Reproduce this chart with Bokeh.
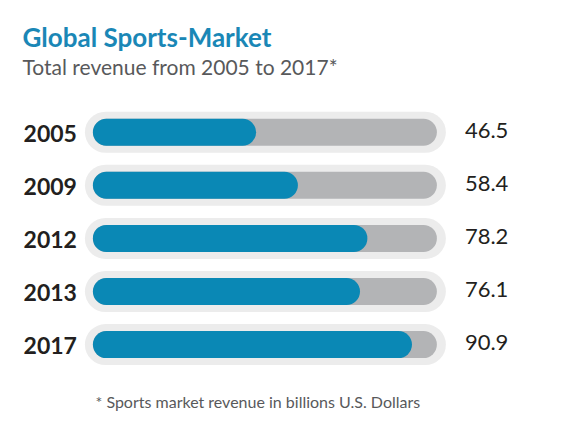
from bokeh.plotting import figure
from bokeh.models import Range1d
from bokeh.core.properties import value
from bokeh.embed import file_html
from bokeh.resources import INLINE

# ---- data ----
years = ["2005", "2009", "2012", "2013", "2017"]
revenue = [46.5, 58.4, 78.2, 76.1, 90.9]
value_labels = ["46.5", "58.4", "78.2", "76.1", "90.9"]
track_max = 98.0

title_text = "Global Sports-Market"
subtitle_text = "Total revenue from 2005 to 2017*"
footnote_text = "* Sports market revenue in billions U.S. Dollars"

# ---- layout constants (pixels) ----
W, H = 546, 429
PX = 3.51          # pixels per revenue unit
X0 = 92.4          # frame pixel of revenue 0
ROW = 53.1         # pixels between rows
Y0 = 131.7         # frame pixel of first row centre

FONT = "Lato"
BLUE = "#0a88b5"
TRACK = "#b3b4b6"
OUTER = "#ececec"
DARK = "#231f20"
GREY = "#58595b"

x_start = -X0 / PX
x_end = x_start + W / PX
y_top = -Y0 / ROW
y_bot = y_top + H / ROW


def dx(px):
    return px / PX


def page_x(x):
    return (x - X0) / PX


def page_y(y):
    return (y - Y0) / ROW


p = figure(width=W, height=H, x_range=Range1d(x_start, x_end),
           y_range=Range1d(y_bot, y_top), output_backend="svg",
           toolbar_location=None, min_border=0,
           x_axis_location=None, y_axis_location=None)
p.grid.visible = False
p.outline_line_color = None
p.background_fill_color = "white"
p.border_fill_color = "white"

rows = list(range(len(years)))

inner_h = 27
outer_h = 41
r_in = dx(inner_h / 2)
r_out = dx(outer_h / 2)

# outer pill
p.segment(x0=[-dx(8) + r_out] * len(rows), y0=rows,
          x1=[track_max + dx(9) - r_out] * len(rows), y1=rows,
          line_width=outer_h, line_cap="round", line_color=OUTER)
# track
p.segment(x0=[r_in] * len(rows), y0=rows,
          x1=[track_max - r_in] * len(rows), y1=rows,
          line_width=inner_h, line_cap="round", line_color=TRACK)
# value bar
p.segment(x0=[r_in] * len(rows), y0=rows,
          x1=[v - r_in for v in revenue], y1=rows,
          line_width=inner_h, line_cap="round", line_color=BLUE)

# year labels
p.text(x=[0] * len(rows), y=rows, text=years, x_offset=-16, y_offset=1,
       text_align="right", text_baseline="middle",
       text_font=value(FONT), text_font_style="bold",
       text_font_size="23px", text_color=DARK)
# value labels
p.text(x=[track_max] * len(rows), y=rows, text=value_labels, x_offset=28,
       y_offset=-2, text_align="left", text_baseline="middle",
       text_font=value(FONT), text_font_size="22px", text_color=DARK)

# title / subtitle / footnote
p.text(x=[page_x(22)], y=[page_y(36)], text=[title_text],
       text_align="left", text_baseline="alphabetic",
       text_font=value(FONT), text_font_style="bold",
       text_font_size="26px", text_color="#1a87b6")
p.text(x=[page_x(22)], y=[page_y(66)], text=[subtitle_text],
       text_align="left", text_baseline="alphabetic",
       text_font=value(FONT), text_font_size="21px", text_color=GREY)
p.text(x=[page_x(95)], y=[page_y(401)], text=[footnote_text],
       text_align="left", text_baseline="alphabetic",
       text_font=value(FONT), text_font_size="16px", text_color=GREY)

open("out.html", "w").write(file_html(p, INLINE))
